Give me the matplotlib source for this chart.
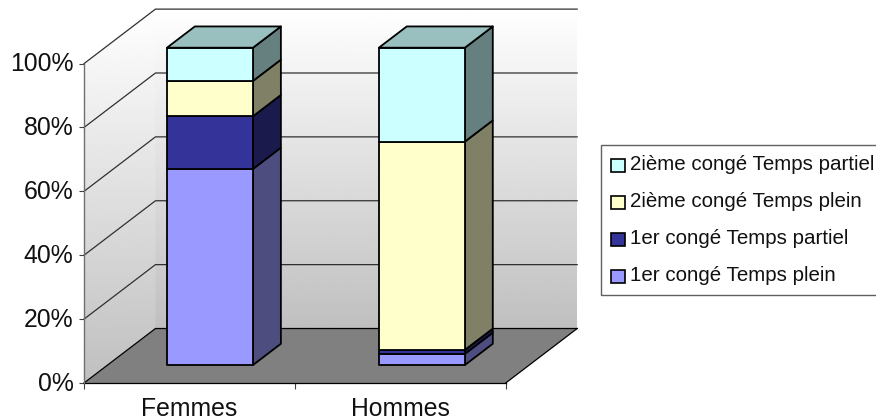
import numpy as np
import matplotlib
matplotlib.use('Agg')
import matplotlib.pyplot as plt
from matplotlib.patches import Polygon, Patch
from matplotlib.ticker import FixedLocator, FixedFormatter, NullFormatter
from matplotlib.transforms import ScaledTranslation

plt.rcParams['font.family'] = ['Liberation Sans', 'DejaVu Sans']

categories = ['Femmes', 'Hommes']
series_names = ['1er congé Temps plein', '1er congé Temps partiel',
                '2ième congé Temps plein', '2ième congé Temps partiel']
temps_plein_1 = [61.4, 3.5]
temps_partiel_1 = [16.5, 1.25]
temps_plein_2 = [11.05, 65.2]
temps_partiel_2 = [10.4, 29.4]
y_ticks = [0, 20, 40, 60, 80, 100]

colors = ['#9999FF', '#333399', '#FFFFCC', '#CCFFFF']
side_colors = ['#4D4D80', '#1A1A4D', '#808066', '#668080']
top_color = '#99C0BF'

# profondeur du graphique (unites de donnees)
DX = 0.339
DY = 17.06
bar_x0 = 0.2817
bar_w = 0.408
d0 = 0.33
d1 = 0.72


def proj(x, y, d):
    return (x + d * DX, y + d * DY)


fig = plt.figure(figsize=(8.76, 4.2), dpi=100)
W, H = 876, 420
ax = fig.add_axes([84 / W, 1 - 383 / H, 421.7 / W, 319.4 / H])
grad = np.linspace(1, 0.75, 256).reshape(-1, 1)

# mur du fond
back = Polygon([proj(0, 0, 1), proj(2, 0, 1), proj(2, 100, 1), proj(0, 100, 1)],
               closed=True, fc='none', ec='none', clip_on=False)
ax.add_patch(back)
im = ax.imshow(grad, cmap='gray', vmin=0, vmax=1, aspect='auto', zorder=1,
               extent=(DX, 2 + DX, DY, 100 + DY), origin='upper')
im.set_clip_path(back)
im.set_clip_box(fig.bbox)

# mur gauche
left = Polygon([proj(0, 0, 0), proj(0, 0, 1), proj(0, 100, 1), proj(0, 100, 0)],
               closed=True, fc='none', ec='none', clip_on=False)
ax.add_patch(left)
im2 = ax.imshow(grad, cmap='gray', vmin=0, vmax=1, aspect='auto', zorder=1,
                extent=(0, DX, 0, 100 + DY), origin='upper')
im2.set_clip_path(left)
im2.set_clip_box(fig.bbox)

ax.set_xlim(0, 2)
ax.set_ylim(0, 100)
ax.patch.set_visible(False)

# sol
ax.add_patch(Polygon([proj(0, 0, 0), proj(2, 0, 0), proj(2, 0, 1), proj(0, 0, 1)],
                     closed=True, fc='#808080', ec='none', zorder=2, clip_on=False))

# grille
for t in y_ticks:
    c = 'black' if t == 0 else '#303030'
    xs, ys = zip(proj(0, t, 0), proj(0, t, 1), proj(2, t, 1))
    ax.plot(xs, ys, color=c, lw=0.9, zorder=3, clip_on=False)
xs, ys = zip(proj(2, 0, 0), proj(2, 0, 1))
ax.plot(xs, ys, color='black', lw=0.9, zorder=3, clip_on=False)

# barres empilees
stack = np.array([temps_plein_1, temps_partiel_1, temps_plein_2, temps_partiel_2])
for i in range(len(categories)):
    x0 = i * 1.005 + bar_x0
    x1 = x0 + bar_w
    base = 0
    for j in range(len(series_names)):
        top = base + stack[j, i]
        front = [proj(x0, base, d0), proj(x1, base, d0), proj(x1, top, d0), proj(x0, top, d0)]
        side = [proj(x1, base, d0), proj(x1, base, d1), proj(x1, top, d1), proj(x1, top, d0)]
        ax.add_patch(Polygon(side, closed=True, fc=side_colors[j], ec='black', lw=1.3,
                             zorder=4, clip_on=False, joinstyle='round'))
        ax.add_patch(Polygon(front, closed=True, fc=colors[j], ec='black', lw=1.3,
                             zorder=5, clip_on=False, joinstyle='round'))
        base = top
    cap = [proj(x0, base, d0), proj(x1, base, d0), proj(x1, base, d1), proj(x0, base, d1)]
    ax.add_patch(Polygon(cap, closed=True, fc=top_color, ec='black', lw=1.3,
                         zorder=5, clip_on=False, joinstyle='round'))

# axes
for s in ['top', 'right']:
    ax.spines[s].set_visible(False)
ax.spines['left'].set_color('#707070')
ax.spines['left'].set_linewidth(1.0)
ax.spines['left'].set_zorder(3)
ax.spines['bottom'].set_color('black')
ax.spines['bottom'].set_linewidth(0.9)
ax.set_yticks(y_ticks)
ax.set_yticklabels([f'{t}%' for t in y_ticks], fontsize=17.8)
ax.xaxis.set_major_locator(FixedLocator([0, 1, 2]))
ax.xaxis.set_major_formatter(NullFormatter())
ax.xaxis.set_minor_locator(FixedLocator([0.5, 1.5]))
ax.xaxis.set_minor_formatter(FixedFormatter(categories))
ax.tick_params(axis='x', which='major', length=4.5, width=0.8, color='#404040')
ax.tick_params(axis='x', which='minor', length=0, labelsize=17.8, pad=10, labelcolor='#111111')
ax.tick_params(axis='y', length=3.5, width=0.8, pad=4, color='#404040', labelcolor='#111111')
for lab in ax.get_yticklabels():
    lab.set_transform(lab.get_transform() + ScaledTranslation(0, 1.2 / 72, fig.dpi_scale_trans))

# legende
handles = [Patch(fc=colors[j], ec='black', lw=1.2) for j in range(3, -1, -1)]
leg = fig.legend(handles, series_names[::-1], loc='upper left',
                 bbox_to_anchor=(601 / W, 1 - 145 / H), bbox_transform=fig.transFigure,
                 fontsize=14.8, frameon=True, fancybox=False, edgecolor='#606060',
                 framealpha=1, borderaxespad=0, borderpad=0.5, labelspacing=0.87,
                 handlelength=0.68, handleheight=0.62, handletextpad=0.22)
leg.get_frame().set_linewidth(1.0)
for t in leg.get_texts():
    t.set_color('#111111')
for h in leg.legend_handles:
    h.set_y(h.get_y() - 2)

fig.savefig('out.png', dpi=100)
